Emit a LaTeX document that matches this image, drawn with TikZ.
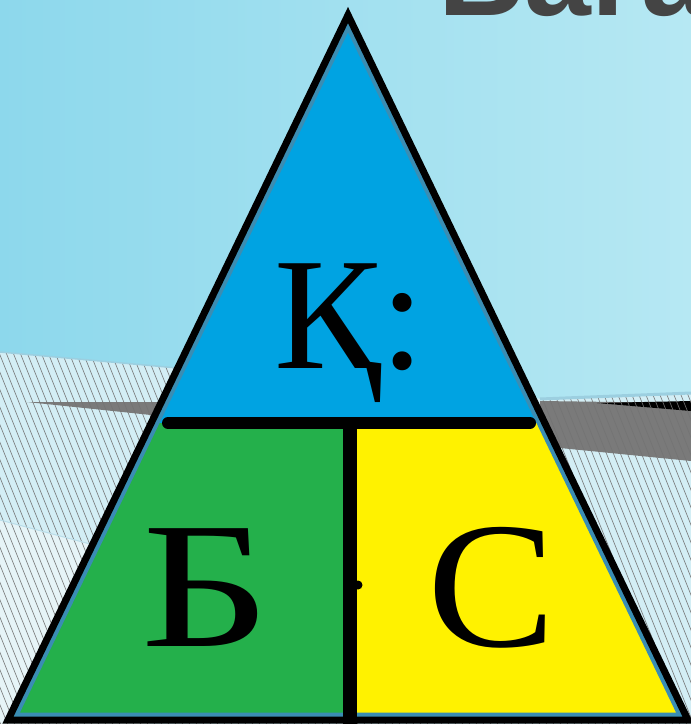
\documentclass[tikz,border=0pt]{standalone}
\usepackage{fontspec}
\setmainfont{Liberation Serif}
\setsansfont{Liberation Sans}
\definecolor{bgA}{HTML}{8DD8EC}
\definecolor{bgB}{HTML}{B6E8F3}
\definecolor{hatchbg}{HTML}{D3EEF5}
\definecolor{hatchlight}{HTML}{E6F4F7}
\definecolor{edgeblue}{HTML}{9CCFE0}
\definecolor{bandgray}{HTML}{7A7A7A}
\definecolor{topblue}{HTML}{00A3E2}
\definecolor{lgreen}{HTML}{24B04B}
\definecolor{lyellow}{HTML}{FFF200}
\definecolor{rimteal}{HTML}{3A8DB3}
\definecolor{titlegray}{HTML}{444444}
\begin{document}
\begin{tikzpicture}[x=1pt,y=-1pt,
  hatchline/.style={black!55,line width=0.6pt},
  letter/.style={inner sep=0pt,anchor=base west,font=\fontsize{180}{180}\selectfont},
  bar/.style={black,line width=#1}]
\useasboundingbox (0,0) rectangle (691,724);
\clip (0,0) rectangle (691,724);
% background
\shade[left color=bgA,right color=bgB] (0,0) rectangle (691,724);
% hatched ground
\fill[hatchbg] (0,352) -- (200,370) -- (545,399) -- (691,392) -- (691,724) -- (0,724) -- cycle;
\fill[hatchlight] (0,520) -- (150,560) -- (150,724) -- (0,724) -- cycle;
\fill[bandgray] (27,402) -- (170,402) -- (170,417) -- cycle;
\fill[bandgray] (540,401) -- (691,403) -- (691,461) -- (540,446) -- cycle;
\fill[black] (597,403) -- (691,401) -- (691,411) -- cycle;
\begin{scope}
  \clip (0,352) -- (200,370) -- (545,399) -- (691,392) -- (691,724) -- (0,724) -- cycle;
  \foreach \i in {-300,-293,...,700} \draw[hatchline] (\i,340) -- ++(160,400);
\end{scope}
\draw[edgeblue,line width=1.5pt] (0,352) -- (200,370);
\draw[edgeblue,line width=3pt] (540,399) -- (691,393);
\draw[edgeblue!70!white,line width=1pt] (0,520) -- (150,560);
% title (cropped as in the reference)
\node[inner sep=0pt,anchor=base west,text=titlegray,font=\sffamily\bfseries\fontsize{120}{120}\selectfont] (title) at (438,15) {Бағасы};
% triangle
\coordinate (A) at (348,15);
\coordinate (L) at (8,720);
\coordinate (R) at (688,720);
\begin{scope}
  \clip (A) -- (L) -- (R) -- cycle;
  \fill[topblue] (0,0) rectangle (691,423);
  \fill[lgreen] (0,423) rectangle (350,724);
  \fill[lyellow] (350,423) rectangle (691,724);
  \draw[rimteal,line width=15pt,line join=miter] (A) -- (L) -- (R) -- cycle;
\end{scope}
\draw[black,line width=7pt,line join=miter] (A) -- (L) -- (R) -- cycle;
% dividers
\coordinate (hl) at (168,423);
\coordinate (hr) at (530,423);
\coordinate (vt) at (350,423);
\coordinate (vb) at (350,724);
\draw[bar=12pt,line cap=round] (hl) -- (hr);
\draw[bar=14pt] (vt) -- (vb);
% letters
\node[inner sep=0pt,anchor=base west,font=\fontsize{160}{160}\selectfont] (k) at (274,368) {Қ:};
\node[letter,xscale=1.25] (b) at (141,646) {Б};
\node[letter,xscale=1.07] (s) at (427,646) {С};
\fill[black] (358,585) circle (4.5);
\end{tikzpicture}
\end{document}
